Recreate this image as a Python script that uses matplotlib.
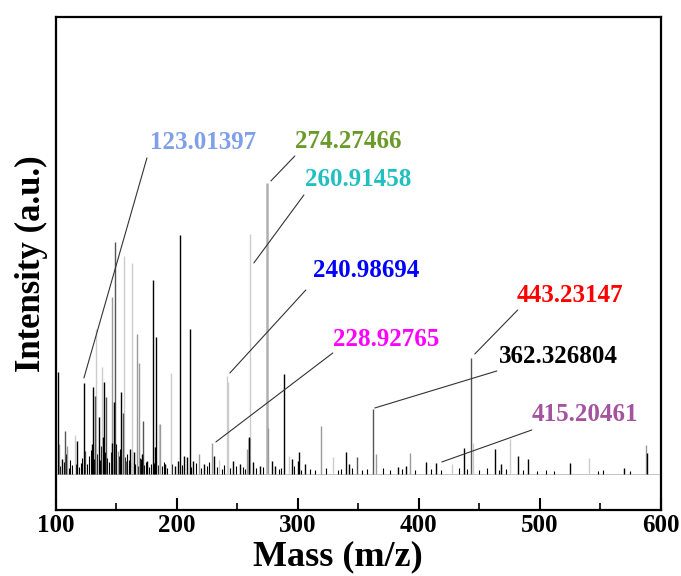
import matplotlib.pyplot as plt
from matplotlib.ticker import MultipleLocator

plt.rcParams["font.family"] = ["Liberation Serif", "DejaVu Serif"]
plt.rcParams["font.weight"] = "bold"

# spectra (m/z, intensity in a.u.) - several overlaid shades
black_mz = [101.7, 105.0, 117.4, 122.9, 129.8, 130.6, 135.3, 138.6, 139.4, 146.3,
            147.7, 154.0, 161.4, 164.2, 171.1, 175.2, 179.9, 182.1, 182.6, 190.3,
            198.6, 200.6, 202.2, 206.0, 208.3, 210.7, 213.5, 222.6, 230.8, 246.5,
            252.0, 259.5, 260.0, 263.1, 268.6, 278.3, 281.0, 288.7, 294.8, 300.3,
            300.8, 305.5, 339.7, 342.1, 382.9, 389.3, 406.3, 414.6, 437.2, 462.6,
            468.3, 481.6, 490.1, 525.3, 569.4, 589.0]
black_int = [102, 15, 33, 91, 30, 87, 57, 37, 92, 31,
             72, 82, 25, 22, 20, 13, 194, 27, 137, 10,
             8, 13, 239, 18, 17, 145, 13, 10, 18, 13,
             10, 37, 36, 12, 8, 13, 8, 100, 15, 13,
             22, 10, 22, 10, 7, 8, 12, 11, 26, 25,
             10, 18, 15, 11, 6, 21]

dark_mz = [107.7, 124.2, 132.2, 141.3, 148.8, 155.4, 157.9, 171.6, 349.3, 362.3, 443.0]
dark_int = [43, 23, 78, 77, 232, 61, 13, 53, 17, 65, 116]

gray_mz = [102.2, 109.0, 146.5, 151.0, 166.7, 168.9, 186.2, 218.2, 228.7, 257.6,
           275.2, 319.0, 365.0, 393.1, 588.2]
gray_int = [30, 28, 177, 23, 140, 111, 50, 20, 31, 25,
            46, 48, 20, 21, 29]

# the broad 274 peak
wide_mz = [274.4]
wide_int = [291]

light_mz = [115.4, 133.0, 138.0, 155.9, 162.5, 185.4, 194.8, 234.7, 241.6, 242.2,
            260.6, 292.8, 329.2, 427.5, 444.4, 475.8, 540.7]
light_int = [39, 145, 107, 218, 211, 50, 101, 14, 98, 92,
             240, 18, 17, 10, 31, 35, 16]

# small background peaks
base_mz = [103.5, 106.3, 108.2, 110.5, 112.0, 113.6, 116.2, 119.0, 120.5, 121.6,
           126.0, 127.5, 128.6, 131.5, 133.5, 134.0, 136.5, 137.4, 140.2, 142.5,
           144.0, 145.2, 149.5, 150.0, 152.5, 153.3, 156.8, 158.6, 159.0, 160.2,
           163.0, 165.5, 167.8, 169.5, 170.0, 173.0, 174.2, 177.0, 178.5, 181.0,
           184.0, 187.5, 189.0, 192.0, 196.0, 204.0, 212.0, 215.5, 220.0, 224.5,
           226.5, 233.0, 237.0, 239.0, 244.0, 249.0, 254.5, 256.0, 265.0, 271.0,
           284.0, 286.0, 297.0, 303.0, 310.0, 314.0, 323.0, 333.0, 336.0, 345.0,
           353.0, 357.0, 370.0, 376.0, 386.0, 397.0, 410.0, 418.0, 433.0, 440.0,
           450.0, 456.0, 466.0, 472.0, 486.0, 498.0, 505.0, 512.0, 548.0, 552.0,
           575.0]
base_int = [8, 12, 20, 6, 14, 9, 10, 7, 11, 16,
            10, 18, 24, 15, 26, 20, 14, 28, 22, 16,
            12, 22, 30, 13, 18, 25, 17, 20, 9, 14,
            12, 10, 8, 16, 15, 9, 12, 7, 10, 11,
            9, 8, 12, 6, 10, 9, 7, 11, 6, 8,
            12, 7, 5, 9, 6, 8, 7, 5, 6, 7,
            5, 6, 8, 4, 5, 4, 6, 4, 5, 6,
            4, 5, 6, 4, 5, 4, 5, 4, 6, 5,
            4, 6, 4, 5, 4, 3, 4, 3, 3, 4,
            3]

labels = ["123.01397", "274.27466", "260.91458", "240.98694",
          "228.92765", "443.23147", "362.326804", "415.20461"]
label_colors = ["#7fa0e8", "#6a9a2a", "#22bfc0", "#0000ff",
                "#ff00ff", "#ff0000", "#000000", "#a4549e"]
peak_xy = [(123.1, 96), (277.7, 293), (263.6, 211), (243.8, 101),
           (232.2, 32), (446.3, 120), (363.6, 66), (419.0, 12)]
line_end = [(175.2, 316), (297.5, 318), (305.0, 279), (306.6, 184),
            (328.9, 121), (481.8, 164), (464.5, 103), (493.4, 44)]
label_xy = [(221.5, 331), (341.3, 332), (349.6, 294), (356.2, 203),
            (372.7, 134), (524.8, 178), (515.7, 117), (537.2, 59)]

fig = plt.figure(figsize=(6.81, 5.76), dpi=100)
ax = fig.add_axes([0.0822, 0.1146, 0.888, 0.856])

ax.axhline(0, color="#bbbbbb", lw=0.6, zorder=0)
ax.vlines(base_mz, 0, base_int, color="black", lw=0.8)
ax.vlines(light_mz, 0, light_int, color="#cccccc", lw=1.0)
ax.vlines(wide_mz, 0, wide_int, color="#b0b0b0", lw=1.8)
ax.vlines(gray_mz, 0, gray_int, color="#9a9a9a", lw=1.0)
ax.vlines(dark_mz, 0, dark_int, color="#555555", lw=1.0)
ax.vlines(black_mz, 0, black_int, color="black", lw=1.0)

for i in range(len(labels)):
    ax.annotate("", xy=peak_xy[i], xytext=line_end[i],
                arrowprops=dict(arrowstyle="-", color="#333333", lw=0.8,
                                shrinkA=0, shrinkB=0))
    ax.text(label_xy[i][0], label_xy[i][1], labels[i], color=label_colors[i],
            fontsize=18, fontweight="bold", ha="center", va="center")

ax.set_xlim(100, 600)
ax.set_ylim(-36, 457)
ax.set_yticks([])
ax.xaxis.set_major_locator(MultipleLocator(100))
ax.xaxis.set_minor_locator(MultipleLocator(50))
ax.tick_params(axis="x", which="major", direction="in", length=9, width=1.5,
               labelsize=18, pad=3)
ax.tick_params(axis="x", which="minor", direction="in", length=5, width=1.2)
for lab in ax.get_xticklabels():
    lab.set_fontweight("bold")
for s in ax.spines.values():
    s.set_linewidth(1.6)

ax.set_xlabel("Mass (m/z)", fontsize=26, fontweight="bold")
ax.xaxis.set_label_coords(0.466, -0.062)
ax.set_ylabel("Intensity (a.u.)", fontsize=25, fontweight="bold", labelpad=6)

plt.savefig("out.png", dpi=100)
